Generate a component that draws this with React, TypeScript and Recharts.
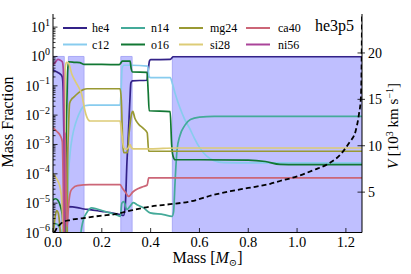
import React from 'react';
import { ComposedChart, Line, XAxis, YAxis, ReferenceArea } from 'recharts';

const FONT = '"Liberation Serif", "DejaVu Serif", serif';

const massTicks = [0, 0.2, 0.4, 0.6, 0.8, 1.0, 1.2];
const vTicks = [5, 10, 15, 20];
const decades = [-6, -5, -4, -3, -2, -1, 0, 1];

// shaded mixed zones, mass coordinate [Msun]
const zones = [
  [0, 0.046],
  [0.063, 0.127],
  [0.278, 0.324],
  [0.489, 1.266],
];

// [mass, log10 mass fraction]
const he4 = [
  [0, -0.45], [0.01, -0.5], [0.02, -0.55], [0.03, -0.6], [0.038, -0.7], [0.042, -1.2],
  [0.045, -3], [0.048, -5.5], [0.055, -5.3], [0.063, -5.12], [0.1, -5.15], [0.127, -5.2],
  [0.15, -5.22], [0.2, -5.28], [0.234, -5.32], [0.275, -5.39], [0.289, -5.42], [0.296, -5.1],
  [0.303, -3.6], [0.309, -2.6], [0.315, -1.5], [0.319, -0.9], [0.325, -0.83], [0.385, -0.81],
  [0.39, -0.5], [0.395, -0.16], [0.4, -0.11], [0.48, -0.1], [0.487, -0.05], [0.492, -0.01],
  [1.266, -0.01],
];
const c12 = [
  [0, -8], [0.052, -8], [0.058, -5.5], [0.062, -4.3], [0.07, -3.3], [0.08, -2.7], [0.09, -2.35],
  [0.1, -2.1], [0.11, -1.9], [0.12, -1.75], [0.13, -1.68], [0.15, -1.66], [0.275, -1.66],
  [0.279, -1.2], [0.283, -0.4], [0.29, -0.3], [0.32, -0.3], [0.388, -0.33], [0.394, -0.7],
  [0.4, -0.72], [0.48, -0.72], [0.49, -0.95], [0.5, -1.25], [0.52, -1.75], [0.54, -2.15],
  [0.56, -2.45], [0.58, -2.8], [0.6, -3.1], [0.63, -3.4], [0.66, -3.55], [0.7, -3.62],
  [0.8, -3.63], [1.266, -3.63],
];
const n14 = [
  [0, -5.9], [0.01, -5.7], [0.02, -5.75], [0.03, -5.9], [0.035, -6.3], [0.04, -7], [0.105, -7],
  [0.112, -6.2], [0.118, -5.8], [0.125, -5.55], [0.14, -5.3], [0.158, -5.16], [0.18, -5.2],
  [0.22, -5.3], [0.26, -5.4], [0.276, -5.45], [0.282, -5.0], [0.29, -4.95], [0.303, -5.22],
  [0.316, -5.1], [0.329, -4.98], [0.344, -5.05], [0.371, -5.16], [0.398, -5.33], [0.453, -5.39],
  [0.488, -5.45], [0.494, -5.3], [0.5, -4.3], [0.508, -3.2], [0.52, -2.7], [0.54, -2.35],
  [0.563, -2.15], [0.6, -2.07], [0.66, -2.04], [1.266, -2.04],
];
const o16 = [
  [0, -4.9], [0.01, -4.85], [0.02, -4.9], [0.03, -5.1], [0.038, -5.4], [0.043, -6.2], [0.05, -7],
  [0.054, -3], [0.057, -1.6], [0.06, -0.5], [0.064, -0.18], [0.09, -0.2], [0.11, -0.21],
  [0.12, -0.25], [0.127, -0.27], [0.2, -0.27], [0.272, -0.28], [0.278, -0.22], [0.284, -0.16],
  [0.316, -0.16], [0.32, -0.4], [0.326, -0.53], [0.385, -0.54], [0.39, -1.2], [0.394, -1.85],
  [0.48, -1.88], [0.486, -3.0], [0.492, -3.4], [0.5, -3.52], [0.6, -3.52], [0.8, -3.53],
  [0.87, -3.58], [0.93, -3.68], [1.0, -3.69], [1.266, -3.69],
];
const mg24 = [
  [0, -6.1], [0.008, -5.5], [0.015, -5.25], [0.022, -5.35], [0.028, -5.8], [0.033, -6.5],
  [0.04, -8], [0.056, -8], [0.06, -3.5], [0.063, -2.6], [0.068, -1.6], [0.077, -1.45],
  [0.083, -1.4], [0.104, -1.24], [0.124, -1.13], [0.14, -1.1], [0.275, -1.1], [0.28, -1.5],
  [0.286, -3.0], [0.29, -3.28], [0.305, -3.28], [0.312, -2.6], [0.322, -1.95], [0.327, -1.87],
  [0.335, -2.1], [0.35, -2.3], [0.37, -2.45], [0.386, -2.6], [0.392, -3.23], [1.266, -3.23],
];
const si28 = [
  [0, -4.0], [0.01, -4.1], [0.02, -4.25], [0.03, -4.5], [0.036, -4.9], [0.04, -5.6], [0.045, -7],
  [0.048, -3], [0.05, -0.4], [0.055, -0.2], [0.063, -0.22], [0.077, -0.6], [0.095, -0.9],
  [0.111, -1.15], [0.118, -1.3], [0.125, -1.6], [0.131, -1.85], [0.138, -2.05], [0.152, -2.2],
  [0.275, -2.2], [0.28, -2.5], [0.29, -3.1], [0.3, -3.17], [0.31, -3.1], [0.316, -3.0],
  [0.322, -3.12], [0.33, -3.15], [0.4, -3.15], [0.5, -3.12], [1.266, -3.12],
];
const ca40 = [
  [0, -2.43], [0.015, -2.55], [0.03, -2.7], [0.038, -2.9], [0.042, -4.5], [0.045, -6.5],
  [0.048, -3.5], [0.05, -2.6], [0.052, -3.5], [0.055, -5.5], [0.058, -5.8], [0.062, -5.3],
  [0.066, -4.9], [0.072, -4.6], [0.08, -4.5], [0.1, -4.4], [0.15, -4.37], [0.275, -4.37],
  [0.285, -4.5], [0.296, -4.62], [0.31, -4.77], [0.327, -4.62], [0.35, -4.5], [0.371, -4.43],
  [0.386, -4.38], [0.392, -4.14], [1.266, -4.14],
];
const ni56 = [
  [0, -0.28], [0.01, -0.2], [0.02, -0.1], [0.03, -0.13], [0.038, -0.18], [0.042, -0.4],
  [0.045, -2], [0.047, -5], [0.05, -8],
];

// [mass, V in 10^3 km/s] -- dashed curve, right axis
const velocity = [
  [0.004, 0.68], [0.008, 0.76], [0.015, 1.1], [0.03, 1.55], [0.042, 1.8], [0.07, 2.0],
  [0.124, 2.2], [0.193, 2.45], [0.262, 2.66], [0.316, 3.0], [0.398, 3.45], [0.48, 3.7],
  [0.563, 4.0], [0.657, 4.7], [0.727, 5.1], [0.8, 5.45], [0.89, 5.9], [0.93, 6.2], [1.0, 6.7],
  [1.07, 7.4], [1.124, 8.0], [1.179, 9.1], [1.213, 10.3], [1.24, 11.6], [1.254, 13.5],
  [1.261, 15], [1.264, 18], [1.266, 24.2],
];

const species = [
  { name: 'he4', color: '#332288', pts: he4 },
  { name: 'c12', color: '#88CCEE', pts: c12 },
  { name: 'n14', color: '#44AA99', pts: n14 },
  { name: 'o16', color: '#117733', pts: o16 },
  { name: 'mg24', color: '#999933', pts: mg24 },
  { name: 'si28', color: '#DDCC77', pts: si28 },
  { name: 'ca40', color: '#CC6677', pts: ca40 },
  { name: 'ni56', color: '#AA4499', pts: ni56 },
];

const logTicks = decades.flatMap((k) => [1, 2, 3, 4, 5, 6, 7, 8, 9].map((j) => j * Math.pow(10, k))).filter((v) => v <= 28);

const velData = velocity.map(([m, v]) => ({ m, v }));

// legend slots: [lineStart, textX, row]
const legendPos: Record<string, number[]> = {
  he4: [63, 92, 0], n14: [121, 151, 0], mg24: [179, 210, 0], ca40: [246, 278, 0],
  c12: [63, 92, 1], o16: [121, 151, 1], si28: [179, 210, 1], ni56: [246, 278, 1],
};

const LeftTick = (props: any) => {
  const { x, y, payload } = props;
  const lg = Math.log10(payload.value);
  const major = Math.abs(lg - Math.round(lg)) < 1e-6;
  const e = Math.round(lg);
  return (
    <g>
      <line x1={x} x2={x + (major ? 4.5 : 2.5)} y1={y} y2={y} stroke="#000" strokeWidth={0.8} />
      {major && (
        <text x={x - 3} y={y + 5} textAnchor="end" fontSize={14} fontFamily={FONT} fill="#000">
          10<tspan dy={-6.5} fontSize={10}>{e < 0 ? '\u2212' + Math.abs(e) : String(e)}</tspan>
        </text>
      )}
    </g>
  );
};

const RightTick = (props: any) => {
  const { x, y, payload } = props;
  return (
    <g>
      <line x1={x - 4.5} x2={x + 3} y1={y} y2={y} stroke="#000" strokeWidth={0.8} />
      <text x={x + 6} y={y + 5} textAnchor="start" fontSize={14} fontFamily={FONT} fill="#000">
        {payload.value}
      </text>
    </g>
  );
};

const BottomTick = (props: any) => {
  const { x, y, payload } = props;
  return (
    <g>
      <line x1={x} x2={x} y1={y} y2={y - 4.5} stroke="#000" strokeWidth={0.8} />
      <text x={x} y={y + 14.5} textAnchor="middle" fontSize={14.5} fontFamily={FONT} fill="#000">
        {Number(payload.value).toFixed(1)}
      </text>
    </g>
  );
};

const TopTick = (props: any) => {
  const { x, y } = props;
  return <line x1={x} x2={x} y1={y} y2={y + 4.5} stroke="#000" strokeWidth={0.8} />;
};

export default function App() {
  return (
    <div style={{ position: 'absolute', left: 0, top: 0, width: 411, height: 274, background: '#fff' }}>
      <ComposedChart width={411} height={274} margin={{ top: 14, right: 0, bottom: 0, left: 0 }}>
        <XAxis
          xAxisId="b" type="number" dataKey="m" domain={[0, 1.266]} ticks={massTicks} interval={0}
          height={41.5} allowDataOverflow tickLine={false} tickSize={0} tickMargin={0}
          axisLine={{ stroke: '#000', strokeWidth: 1 }} tick={BottomTick}
        />
        <XAxis
          xAxisId="t" orientation="top" type="number" dataKey="m" domain={[0, 1.266]} ticks={massTicks}
          interval={0} height={0} allowDataOverflow tickLine={false} tickSize={0} tickMargin={0}
          axisLine={{ stroke: '#000', strokeWidth: 1 }} tick={TopTick}
        />
        <YAxis
          yAxisId="l" scale="log" type="number" domain={[1e-6, 28]} ticks={logTicks} interval={0}
          width={53} allowDataOverflow tickLine={false} tickSize={0} tickMargin={0}
          axisLine={{ stroke: '#000', strokeWidth: 1 }} tick={LeftTick}
        />
        <YAxis
          yAxisId="r" orientation="right" type="number" domain={[0.65, 24.2]} ticks={vTicks} interval={0}
          width={49} allowDataOverflow tickLine={false} tickSize={0} tickMargin={0}
          axisLine={{ stroke: '#000', strokeWidth: 1 }} tick={RightTick}
        />
        {zones.map(([a, b], i) => (
          <ReferenceArea
            key={'z' + i} xAxisId="b" yAxisId="l" x1={a} x2={b} y1={1e-6} y2={1}
            fill="#bfbfff" fillOpacity={1} stroke="#a9a9f6" strokeWidth={1} ifOverflow="hidden"
          />
        ))}
        {species.map((s) => (
          <Line
            key={s.name} xAxisId="b" yAxisId="l" data={s.pts.map(([m, lg]) => ({ m, y: Math.pow(10, lg) }))}
            dataKey="y" type="monotone" stroke={s.color} strokeWidth={1.7} dot={false} activeDot={false}
            isAnimationActive={false}
          />
        ))}
        <Line
          xAxisId="b" yAxisId="r" data={velData} dataKey="v" type="monotone" stroke="#000"
          strokeWidth={1.8} strokeDasharray="5 3" dot={false} activeDot={false} isAnimationActive={false}
        />
      </ComposedChart>
      <svg width={411} height={274} style={{ position: 'absolute', left: 0, top: 0, pointerEvents: 'none' }}>
        {species.map((s) => {
          const [lx, tx, row] = legendPos[s.name];
          const ly = 28 + row * 16.5;
          return (
            <g key={'lg' + s.name}>
              <line x1={lx} x2={lx + 24} y1={ly} y2={ly} stroke={s.color} strokeWidth={2} />
              <text x={tx} y={ly + 4} fontSize={12} fontFamily={FONT} fill="#000">{s.name}</text>
            </g>
          );
        })}
        <text x={354} y={31} textAnchor="end" fontSize={16} fontFamily={FONT} fill="#000">he3p5</text>
        <text x={207.5} y={263} textAnchor="middle" fontSize={16} fontFamily={FONT} fill="#000">
          Mass [<tspan fontStyle="italic">M</tspan><tspan dy={3} fontSize={10}>{'\u2299'}</tspan><tspan dy={-3}>]</tspan>
        </text>
        <text x={13} y={122} transform="rotate(-90 13 122)" textAnchor="middle" fontSize={16} fontFamily={FONT} fill="#000">
          Mass Fraction
        </text>
        <text x={398} y={126} transform="rotate(-90 398 126)" textAnchor="middle" fontSize={15} fontFamily={FONT} fill="#000">
          <tspan fontStyle="italic">V</tspan> [10<tspan dy={-5} fontSize={10}>3</tspan>
          <tspan dy={5}> km s</tspan><tspan dy={-5} fontSize={10}>{'\u22121'}</tspan><tspan dy={5}>]</tspan>
        </text>
      </svg>
    </div>
  );
}
